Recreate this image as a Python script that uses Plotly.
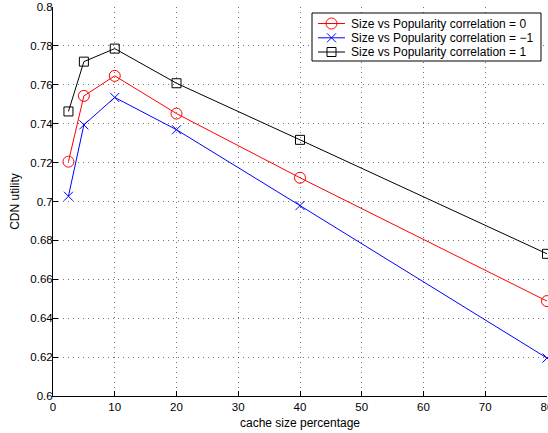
import plotly.graph_objects as go

cache_pct = [2.5, 5, 10, 20, 40, 80]
corr0 = [0.7205, 0.7543, 0.7646, 0.7452, 0.7122, 0.6488]
corr_neg1 = [0.7027, 0.7394, 0.7535, 0.7369, 0.6979, 0.6195]
corr_pos1 = [0.7463, 0.7719, 0.7786, 0.7608, 0.7317, 0.6731]
names = ["Size vs Popularity correlation = 0",
         "Size vs Popularity correlation = \u22121",
         "Size vs Popularity correlation = 1"]
x_ticks = [0, 10, 20, 30, 40, 50, 60, 70, 80]
y_ticks = [0.6, 0.62, 0.64, 0.66, 0.68, 0.7, 0.72, 0.74, 0.76, 0.78, 0.8]
y_labels = ["0.6", "0.62", "0.64", "0.66", "0.68", "0.7", "0.72", "0.74", "0.76", "0.78", "0.8"]

W, H = 548, 433
ML, MR, MT, MB = 53, 1, 7, 37
PW, PH = W - ML - MR, H - MT - MB


def px_x(p):
    return (p - ML) / PW


def px_y(p):
    return 1 - (p - MT) / PH


fig = go.Figure()
series = [
    (corr0, names[0], "red", "circle-open", 11),
    (corr_neg1, names[1], "blue", "x-thin-open", 9),
    (corr_pos1, names[2], "black", "square-open", 9),
]
for ys, nm, col, sym, sz in series:
    fig.add_trace(go.Scatter(
        x=cache_pct, y=ys, name=nm, mode="lines+markers",
        line=dict(color=col, width=1),
        marker=dict(symbol=sym, size=sz, color=col, line=dict(color=col, width=1)),
        cliponaxis=False, showlegend=False,
    ))

# manual legend (matlab-style compact box)
shapes = [dict(type="rect", xref="paper", yref="paper",
               x0=px_x(312), x1=px_x(541), y0=px_y(61), y1=px_y(13),
               fillcolor="white", line=dict(color="black", width=1), layer="above")]
annotations = []
row_y = [23.5, 37.8, 52]
for (ys, nm, col, sym, sz), ry in zip(series, row_y):
    shapes.append(dict(type="line", xref="paper", yref="paper",
                       x0=px_x(318), x1=px_x(345), y0=px_y(ry), y1=px_y(ry),
                       line=dict(color=col, width=1), layer="above"))
    cx = 331.5
    if sym.startswith("circle"):
        r = 5.5
        shapes.append(dict(type="circle", xref="paper", yref="paper",
                           x0=px_x(cx - r), x1=px_x(cx + r), y0=px_y(ry + r), y1=px_y(ry - r),
                           line=dict(color=col, width=1), layer="above"))
    elif sym.startswith("square"):
        r = 4.5
        shapes.append(dict(type="rect", xref="paper", yref="paper",
                           x0=px_x(cx - r), x1=px_x(cx + r), y0=px_y(ry + r), y1=px_y(ry - r),
                           line=dict(color=col, width=1), layer="above"))
    else:
        r = 4.5
        for s in (1, -1):
            shapes.append(dict(type="line", xref="paper", yref="paper",
                               x0=px_x(cx - r), x1=px_x(cx + r),
                               y0=px_y(ry - s * r), y1=px_y(ry + s * r),
                               line=dict(color=col, width=1), layer="above"))
    annotations.append(dict(xref="paper", yref="paper", x=px_x(349), y=px_y(ry),
                            xanchor="left", yanchor="middle", showarrow=False,
                            text=nm, font=dict(family="Liberation Sans, Arial, sans-serif",
                                               size=12, color="black")))

font = dict(family="Liberation Sans, Arial, sans-serif", size=11.5, color="black")
tfont = dict(family="Liberation Sans, Arial, sans-serif", size=12, color="black")
fig.update_layout(
    width=W, height=H,
    margin=dict(l=ML, r=MR, t=MT, b=MB),
    paper_bgcolor="white", plot_bgcolor="white",
    font=font,
    showlegend=False,
    shapes=shapes,
    annotations=annotations,
    xaxis=dict(
        range=[0, 80], tickvals=x_ticks, ticktext=[str(v) for v in x_ticks],
        ticks="inside", ticklen=5, tickcolor="black", tickwidth=1,
        showline=True, linecolor="black", linewidth=1, mirror=False,
        showgrid=True, gridcolor="rgba(0,0,0,0.55)", griddash="1px,4px", gridwidth=1,
        zeroline=False, automargin=False, ticklabeloverflow="allow",
        title=dict(text="cache size percentage", standoff=6, font=tfont),
        tickfont=font,
    ),
    yaxis=dict(
        range=[0.6, 0.8], tickvals=y_ticks, ticktext=y_labels,
        ticks="inside", ticklen=5, tickcolor="black", tickwidth=1,
        showline=True, linecolor="black", linewidth=1, mirror=False,
        showgrid=True, gridcolor="rgba(0,0,0,0.55)", griddash="1px,4px", gridwidth=1,
        zeroline=False, automargin=False, ticklabeloverflow="allow",
        ticklabelstandoff=-3,
        title=dict(text="CDN utility", standoff=8, font=tfont),
        tickfont=font,
    ),
)
fig.write_html("out.html", config={"displayModeBar": False},
               post_script="document.body.style.margin='0';document.body.style.overflow='hidden';")
